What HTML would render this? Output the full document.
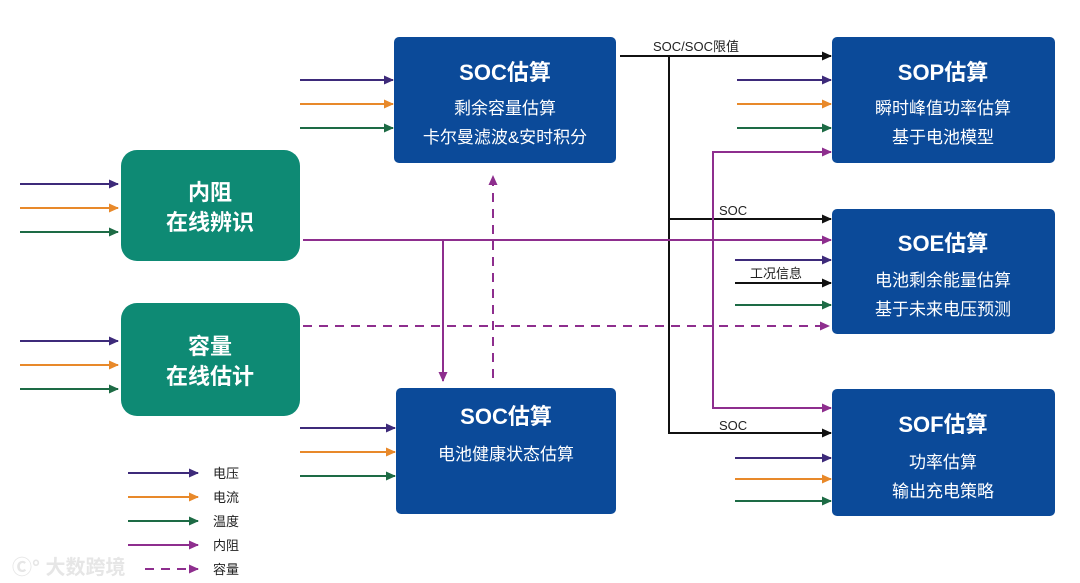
<!DOCTYPE html>
<html><head><meta charset="utf-8"><style>
html,body{margin:0;padding:0;background:#fff;width:1080px;height:583px;overflow:hidden}
svg{display:block}
text{font-family:"Liberation Sans","Noto Sans CJK SC",sans-serif}
</style></head><body>
<svg width="1080" height="583" viewBox="0 0 1080 583" xmlns="http://www.w3.org/2000/svg">
<defs>
<marker id="mp" markerWidth="10" markerHeight="10" refX="9" refY="5" orient="auto" markerUnits="userSpaceOnUse"><path d="M0,0.5 L10,5 L0,9.5z" fill="#3d2a7a"/></marker>
<marker id="mo" markerWidth="10" markerHeight="10" refX="9" refY="5" orient="auto" markerUnits="userSpaceOnUse"><path d="M0,0.5 L10,5 L0,9.5z" fill="#e8892a"/></marker>
<marker id="mg" markerWidth="10" markerHeight="10" refX="9" refY="5" orient="auto" markerUnits="userSpaceOnUse"><path d="M0,0.5 L10,5 L0,9.5z" fill="#1d6b45"/></marker>
<marker id="mm" markerWidth="10" markerHeight="10" refX="9" refY="5" orient="auto" markerUnits="userSpaceOnUse"><path d="M0,0.5 L10,5 L0,9.5z" fill="#8e2e8e"/></marker>
<marker id="mk" markerWidth="10" markerHeight="10" refX="9" refY="5" orient="auto" markerUnits="userSpaceOnUse"><path d="M0,0.5 L10,5 L0,9.5z" fill="#111"/></marker>
</defs>
<g stroke-width="2" fill="none">
<path d="M20 184H118" stroke="#3d2a7a" marker-end="url(#mp)"/>
<path d="M20 208H118" stroke="#e8892a" marker-end="url(#mo)"/>
<path d="M20 232H118" stroke="#1d6b45" marker-end="url(#mg)"/>
<path d="M20 341H118" stroke="#3d2a7a" marker-end="url(#mp)"/>
<path d="M20 365H118" stroke="#e8892a" marker-end="url(#mo)"/>
<path d="M20 389H118" stroke="#1d6b45" marker-end="url(#mg)"/>
<path d="M300 80H393" stroke="#3d2a7a" marker-end="url(#mp)"/>
<path d="M300 104H393" stroke="#e8892a" marker-end="url(#mo)"/>
<path d="M300 128H393" stroke="#1d6b45" marker-end="url(#mg)"/>
<path d="M300 428H395" stroke="#3d2a7a" marker-end="url(#mp)"/>
<path d="M300 452H395" stroke="#e8892a" marker-end="url(#mo)"/>
<path d="M300 476H395" stroke="#1d6b45" marker-end="url(#mg)"/>
<path d="M737 80H831" stroke="#3d2a7a" marker-end="url(#mp)"/>
<path d="M737 104H831" stroke="#e8892a" marker-end="url(#mo)"/>
<path d="M737 128H831" stroke="#1d6b45" marker-end="url(#mg)"/>
<path d="M735 260H831" stroke="#3d2a7a" marker-end="url(#mp)"/>
<path d="M735 283H831" stroke="#111" marker-end="url(#mk)"/>
<path d="M735 305H831" stroke="#1d6b45" marker-end="url(#mg)"/>
<path d="M735 458H831" stroke="#3d2a7a" marker-end="url(#mp)"/>
<path d="M735 479H831" stroke="#e8892a" marker-end="url(#mo)"/>
<path d="M735 501H831" stroke="#1d6b45" marker-end="url(#mg)"/>
<path d="M620 56H831" stroke="#111" marker-end="url(#mk)"/>
<path d="M669 56V433H831" stroke="#111" marker-end="url(#mk)"/>
<path d="M669 219H831" stroke="#111" marker-end="url(#mk)"/>
<path d="M303 240H831" stroke="#8e2e8e" marker-end="url(#mm)"/>
<path d="M443 240V381" stroke="#8e2e8e" marker-end="url(#mm)"/>
<path d="M831 152H713V408H831" stroke="#8e2e8e"/>
<path d="M800 152H831" stroke="#8e2e8e" marker-end="url(#mm)"/>
<path d="M800 408H831" stroke="#8e2e8e" marker-end="url(#mm)"/>
<path d="M303 326H829" stroke="#8e2e8e" stroke-dasharray="9 7" marker-end="url(#mm)"/>
<path d="M493 378V176" stroke="#8e2e8e" stroke-dasharray="9 7" marker-end="url(#mm)"/>
<path d="M128 473H198" stroke="#3d2a7a" marker-end="url(#mp)"/>
<path d="M128 497H198" stroke="#e8892a" marker-end="url(#mo)"/>
<path d="M128 521H198" stroke="#1d6b45" marker-end="url(#mg)"/>
<path d="M128 545H198" stroke="#8e2e8e" marker-end="url(#mm)"/>
<path d="M145 569H198" stroke="#8e2e8e" stroke-dasharray="9 7" marker-end="url(#mm)"/>
</g>
<g fill="#0b4a99">
<rect x="394" y="37" width="222" height="126" rx="5"/>
<rect x="396" y="388" width="220" height="126" rx="5"/>
<rect x="832" y="37" width="223" height="126" rx="5"/>
<rect x="832" y="209" width="223" height="125" rx="5"/>
<rect x="832" y="389" width="223" height="127" rx="5"/>
</g>
<g fill="#0e8a74">
<rect x="121" y="150" width="179" height="111" rx="16"/>
<rect x="121" y="303" width="179" height="113" rx="16"/>
</g>
<g fill="#fff" text-anchor="middle">
<text x="505" y="80" font-size="22" font-weight="bold">SOC估算</text>
<text x="505" y="114" font-size="17">剩余容量估算</text>
<text x="505" y="143" font-size="17">卡尔曼滤波&amp;安时积分</text>
<text x="506" y="424" font-size="22" font-weight="bold">SOC估算</text>
<text x="506" y="460" font-size="17">电池健康状态估算</text>
<text x="943" y="80" font-size="22" font-weight="bold">SOP估算</text>
<text x="943" y="114" font-size="17">瞬时峰值功率估算</text>
<text x="943" y="143" font-size="17">基于电池模型</text>
<text x="943" y="251" font-size="22" font-weight="bold">SOE估算</text>
<text x="943" y="286" font-size="17">电池剩余能量估算</text>
<text x="943" y="315" font-size="17">基于未来电压预测</text>
<text x="943" y="432" font-size="22" font-weight="bold">SOF估算</text>
<text x="943" y="468" font-size="17">功率估算</text>
<text x="943" y="497" font-size="17">输出充电策略</text>
<text x="210" y="200" font-size="22" font-weight="bold">内阻</text>
<text x="210" y="230" font-size="22" font-weight="bold">在线辨识</text>
<text x="210" y="354" font-size="22" font-weight="bold">容量</text>
<text x="210" y="384" font-size="22" font-weight="bold">在线估计</text>
</g>
<g fill="#222" font-size="13">
<text x="653" y="51">SOC/SOC限值</text>
<text x="719" y="215">SOC</text>
<text x="750" y="278">工况信息</text>
<text x="719" y="430">SOC</text>
</g>
<g fill="#222" font-size="13">
<text x="213" y="478">电压</text>
<text x="213" y="502">电流</text>
<text x="213" y="526">温度</text>
<text x="213" y="550">内阻</text>
<text x="213" y="574">容量</text>
</g>
<text x="12" y="574" font-size="20" fill="#e6e6e6" font-weight="bold">Ⓒ° 大数跨境</text>
</svg>
</body></html>
